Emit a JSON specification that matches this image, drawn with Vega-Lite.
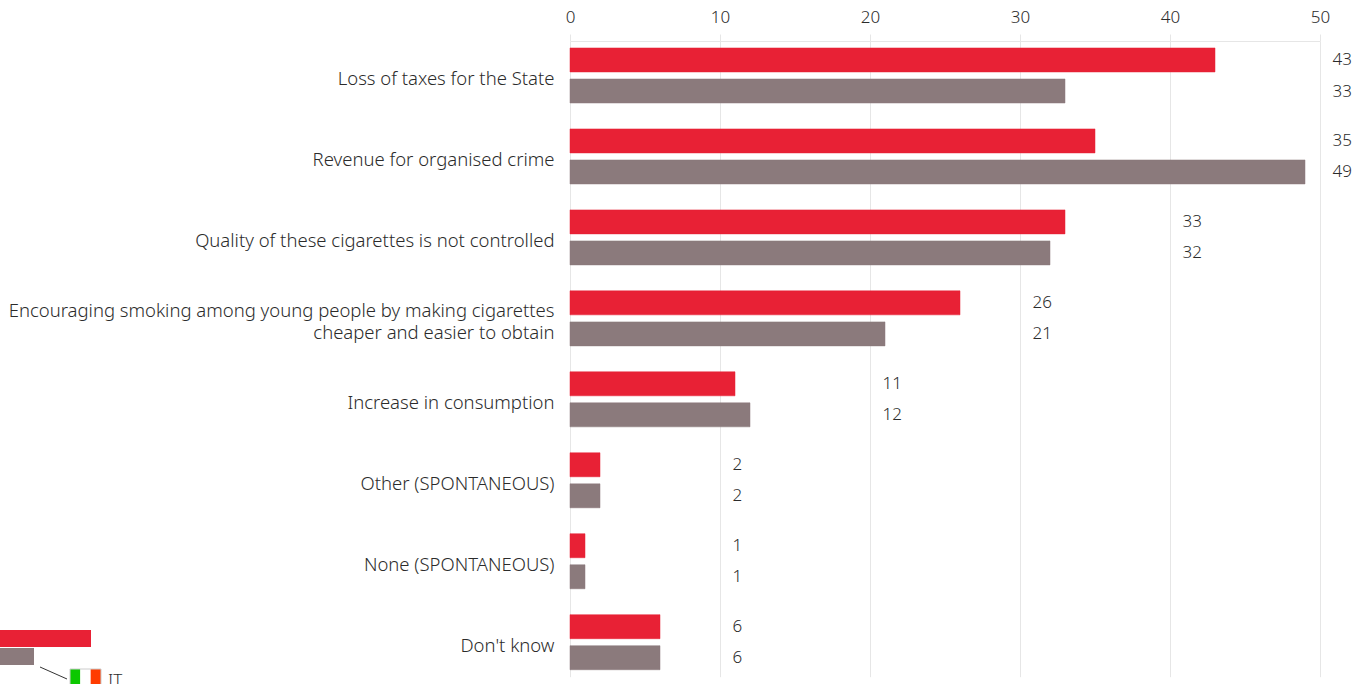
{
"$schema":"https://vega.github.io/schema/vega-lite/v6.json",
"width":750,"height":643,
"autosize":{"type":"none"},
"padding":{"left":570,"top":41,"right":46,"bottom":0},
"background":"white",
"config":{"view":{"stroke":null},"font":"Noto Sans"},
"datasets":{
"main":[
{"category":"Loss of taxes for the State","series":"EU","value":43},
{"category":"Loss of taxes for the State","series":"IT","value":33},
{"category":"Revenue for organised crime","series":"EU","value":35},
{"category":"Revenue for organised crime","series":"IT","value":49},
{"category":"Quality of these cigarettes is not controlled","series":"EU","value":33},
{"category":"Quality of these cigarettes is not controlled","series":"IT","value":32},
{"category":"Encouraging smoking among young people by making cigarettes|cheaper and easier to obtain","series":"EU","value":26},
{"category":"Encouraging smoking among young people by making cigarettes|cheaper and easier to obtain","series":"IT","value":21},
{"category":"Increase in consumption","series":"EU","value":11},
{"category":"Increase in consumption","series":"IT","value":12},
{"category":"Other (SPONTANEOUS)","series":"EU","value":2},
{"category":"Other (SPONTANEOUS)","series":"IT","value":2},
{"category":"None (SPONTANEOUS)","series":"EU","value":1},
{"category":"None (SPONTANEOUS)","series":"IT","value":1},
{"category":"Don't know","series":"EU","value":6},
{"category":"Don't know","series":"IT","value":6}
],
"inset":[{"series":"EU","value":91},{"series":"IT","value":34}],
"flag":[{"stripe":"green","n":1,"share":1},{"stripe":"white","n":2,"share":1},{"stripe":"red","n":3,"share":1}],
"one":[{"country":"IT"}]
},
"layer":[
{
"data":{"name":"main"},
"mark":{"type":"bar","strokeWidth":1,"strokeOpacity":0.5},
"encoding":{
"y":{"field":"category","type":"nominal","sort":null,"title":null,
"scale":{"domain":["Loss of taxes for the State","Revenue for organised crime","Quality of these cigarettes is not controlled","Encouraging smoking among young people by making cigarettes|cheaper and easier to obtain","Increase in consumption","Other (SPONTANEOUS)","None (SPONTANEOUS)","Don't know"],"range":[0,635.7],"paddingInner":0.32,"paddingOuter":0.086},
"axis":{"domain":false,"ticks":false,"grid":false,"labelFontSize":18.5,"labelFontWeight":300,"labelColor":"#2b2b2b","labelPadding":16,"labelLimit":600,"labelOffset":{"condition":{"test":"indexof(datum.value,'|')>=0","value":-7.4},"value":3.8},"labelLineHeight":22.5,"labelExpr":"split(datum.label,'|')"}},
"yOffset":{"field":"series","type":"nominal","scale":{"domain":["EU","IT"],"paddingInner":0.226,"paddingOuter":0}},
"x":{"field":"value","type":"quantitative","stack":null,"title":null,
"scale":{"domain":[0,50],"nice":false},
"axis":{"orient":"top","values":[0,10,20,30,40,50],"grid":true,"gridColor":"#e6e6e6","domain":true,"domainColor":"#e6e6e6","tickColor":"#e6e6e6","tickSize":7,"labelFontSize":17,"labelFontWeight":300,"labelColor":"#2b2b2b","labelPadding":8,"labelFlush":false,"labelBound":false,"labelOverlap":false}},
"color":{"field":"series","type":"nominal","legend":null,"scale":{"domain":["EU","IT"],"range":["#e82135","#8b7a7c"]}},
"stroke":{"field":"series","type":"nominal","legend":null,"scale":{"domain":["EU","IT"],"range":["#e82135","#8b7a7c"]}}
}
},
{
"data":{"name":"main"},
"transform":[
{"joinaggregate":[{"op":"max","field":"value","as":"groupMax"}],"groupby":["category"]},
{"calculate":"ceil(datum.groupMax/10)*10","as":"nextTick"}
],
"mark":{"type":"text","align":"left","baseline":"middle","dx":12.5,"dy":0.5,"fontSize":17,"fontWeight":300,"color":"#2b2b2b"},
"encoding":{
"y":{"field":"category","type":"nominal","sort":null,"axis":null,
"scale":{"domain":["Loss of taxes for the State","Revenue for organised crime","Quality of these cigarettes is not controlled","Encouraging smoking among young people by making cigarettes|cheaper and easier to obtain","Increase in consumption","Other (SPONTANEOUS)","None (SPONTANEOUS)","Don't know"],"range":[0,635.7],"paddingInner":0.32,"paddingOuter":0.086}},
"yOffset":{"field":"series","type":"nominal","scale":{"domain":["EU","IT"],"paddingInner":0.226,"paddingOuter":0}},
"x":{"field":"nextTick","type":"quantitative","axis":null,"scale":{"domain":[0,50],"nice":false}},
"text":{"field":"value","type":"quantitative"}
}
},
{
"data":{"name":"inset"},
"mark":{"type":"bar"},
"encoding":{
"y":{"field":"series","type":"nominal","axis":null,"scale":{"domain":["EU","IT"],"range":[589,624],"paddingInner":0.06,"paddingOuter":0}},
"x":{"field":"value","type":"quantitative","stack":null,"axis":null,"scale":{"domain":[0,100],"range":[-570,-470],"nice":false}},
"color":{"field":"series","type":"nominal","legend":null,"scale":{"domain":["EU","IT"],"range":["#e82135","#8b7a7c"]}}
}
},
{
"data":{"name":"one"},
"mark":{"type":"rule","color":"#333333","strokeWidth":1},
"encoding":{
"x":{"datum":40,"type":"quantitative","axis":null,"scale":{"domain":[0,100],"range":[-570,-470],"nice":false}},
"x2":{"datum":67},
"y":{"datum":0,"type":"quantitative","axis":null,"scale":{"domain":[0,1],"range":[626,638],"nice":false}},
"y2":{"datum":1}
}
},
{
"data":{"name":"flag"},
"mark":{"type":"bar"},
"encoding":{
"y":{"datum":"IT","type":"nominal","axis":null,"scale":{"domain":["IT"],"range":[628,652],"paddingInner":0,"paddingOuter":0}},
"x":{"field":"share","type":"quantitative","stack":"zero","axis":null,"scale":{"domain":[0,3],"range":[-500,-469],"nice":false}},
"order":{"field":"n"},
"color":{"field":"stripe","type":"nominal","legend":null,"scale":{"domain":["green","white","red"],"range":["#0cc800","#ffffff","#ff3c00"]}}
}
},
{
"data":{"name":"one"},
"mark":{"type":"bar","fill":null,"stroke":"#cccccc","strokeWidth":1},
"encoding":{
"y":{"datum":"IT","type":"nominal","axis":null,"scale":{"domain":["IT"],"range":[628,652],"paddingInner":0,"paddingOuter":0}},
"x":{"datum":0,"type":"quantitative","axis":null,"scale":{"domain":[0,3],"range":[-500,-469],"nice":false}},
"x2":{"datum":3}
}
},
{
"data":{"name":"one"},
"mark":{"type":"text","align":"left","baseline":"middle","dx":7,"fontSize":17,"fontWeight":300,"color":"#2b2b2b"},
"encoding":{
"y":{"datum":"IT","type":"nominal","axis":null,"scale":{"domain":["IT"],"range":[628,652],"paddingInner":0,"paddingOuter":0}},
"x":{"datum":3,"type":"quantitative","axis":null,"scale":{"domain":[0,3],"range":[-500,-469],"nice":false}},
"text":{"field":"country"}
}
}
],
"resolve":{"scale":{"x":"independent","y":"independent","color":"independent","stroke":"independent"},"axis":{"x":"independent","y":"independent"}}
}
